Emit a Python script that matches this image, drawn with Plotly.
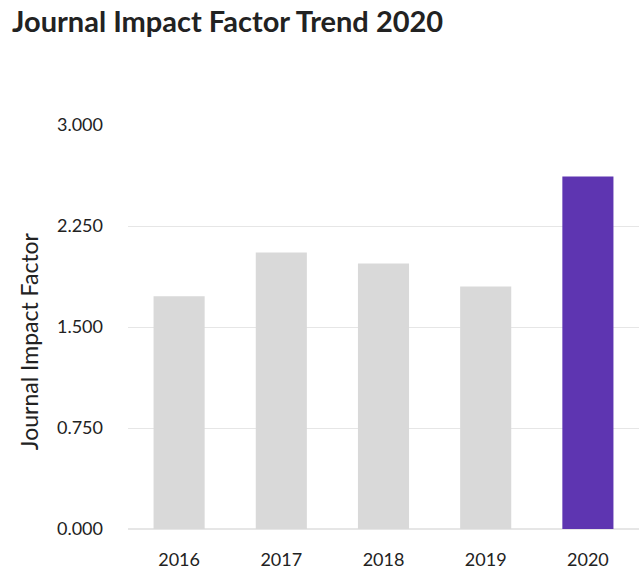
import plotly.graph_objects as go

years = ["2016", "2017", "2018", "2019", "2020"]
impact = [1.729, 2.053, 1.971, 1.801, 2.617]
bar_colors = ["#d9d9d9", "#d9d9d9", "#d9d9d9", "#d9d9d9", "#5e35b1"]
tick_vals = [0, 0.75, 1.5, 2.25, 3.0]
tick_text = ["0.000", "0.750", "1.500", "2.250", "3.000"]

FONT = "Lato"

fig = go.Figure(go.Bar(
    x=years, y=impact, marker=dict(color=bar_colors, line=dict(width=0)),
    width=0.5, hoverinfo="skip",
))

fig.update_layout(
    width=639, height=586,
    margin=dict(l=128, r=0, t=125, b=57),
    paper_bgcolor="white", plot_bgcolor="white",
    font=dict(family=FONT, color="#222222"),
    title=dict(
        text="Journal Impact Factor Trend 2020",
        font=dict(family=FONT, size=29, color="#222222", weight=700),
        xref="container", yref="container",
        x=12/639, xanchor="left", y=1 - 22/586, yanchor="middle",
    ),
    showlegend=False,
    bargap=0.5,
    annotations=[dict(
        text="Journal Impact Factor", textangle=-90,
        xref="paper", yref="paper", x=0, y=0.465,
        xanchor="center", yanchor="middle", xshift=-99, showarrow=False,
        font=dict(family=FONT, size=23, color="#222222"),
    )],
)

fig.update_xaxes(
    showgrid=False, showline=False, zeroline=False,
    ticks="", ticklabelstandoff=18,
    tickfont=dict(family=FONT, size=18, color="#222222"),
)
fig.update_yaxes(
    range=[0, 3.0], tickvals=tick_vals, ticktext=tick_text,
    showgrid=True, gridcolor="#e6e6e6", gridwidth=1,
    zeroline=True, zerolinecolor="#e6e6e6", zerolinewidth=2,
    showline=False, ticks="", ticklabelstandoff=24,
    tickfont=dict(family=FONT, size=18, color="#222222"),
)

fig.write_html(
    "out.html",
    config={"displayModeBar": False},
    post_script="document.body.style.margin='0';document.body.style.overflow='hidden';",
)
